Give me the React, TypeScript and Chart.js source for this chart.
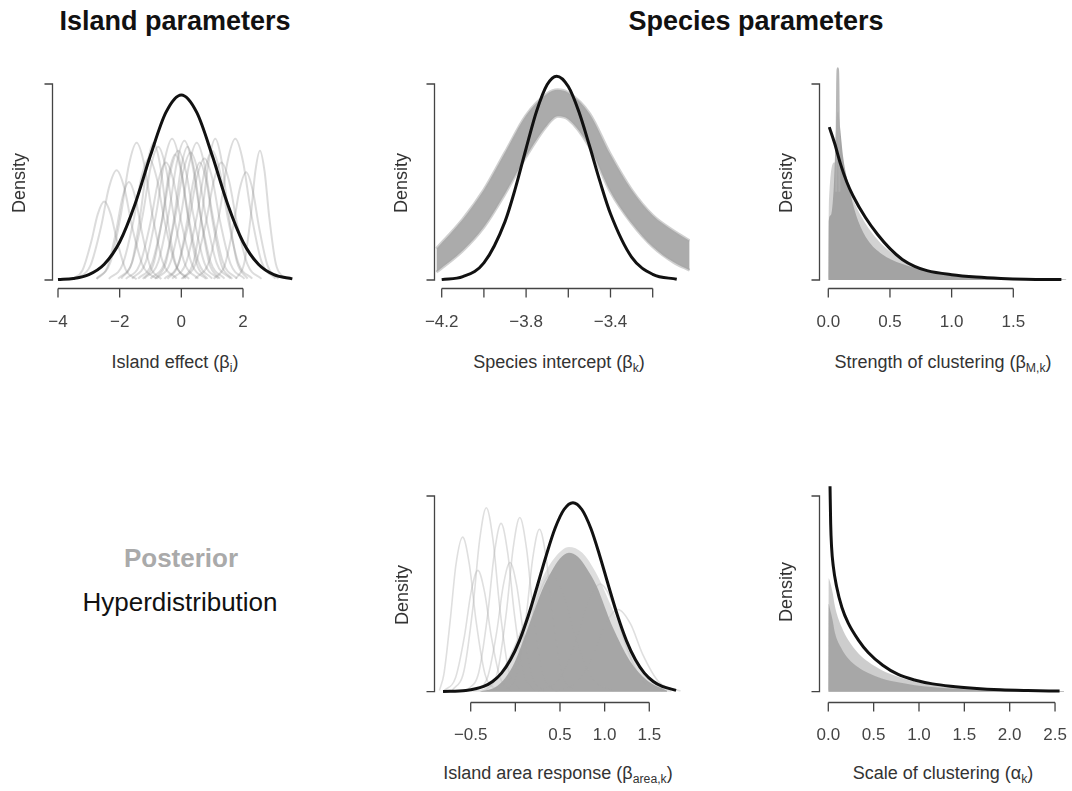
import React, { useEffect, useRef } from "react";
import { Chart, registerables } from "chart.js";

Chart.register(...registerables);

type Pt = [number, number];

// ---------------- Panel 1: Island effect (beta_i) ----------------
const islandTicks = [-4, -2, 0, 2];
const islandTickLabels = ["\u22124", "\u22122", "0", "2"];
const islandHyper: Pt[] = [
  [-4, 0.002], [-3.5, 0.0075], [-3, 0.027], [-2.5, 0.08], [-2, 0.194], [-1.5, 0.388], [-1, 0.636], [-0.5, 0.855],
  [0, 0.944], [0.5, 0.855], [1, 0.636], [1.5, 0.388], [2, 0.194], [2.5, 0.08], [3, 0.027], [3.6, 0.0056],
];
const islandPost01: Pt[] = [[-3.4, 0.006], [-2.95, 0.073], [-2.6, 0.274], [-2.35, 0.47], [-2.1, 0.56], [-1.85, 0.47], [-1.6, 0.274], [-1.25, 0.073], [-0.8, 0.006]];
const islandPost02: Pt[] = [[-2.75, 0.007], [-2.3, 0.091], [-1.95, 0.343], [-1.7, 0.588], [-1.45, 0.7], [-1.2, 0.588], [-0.95, 0.343], [-0.6, 0.091], [-0.15, 0.007]];
const islandPost03: Pt[] = [[-2.35, 0.006], [-1.9, 0.081], [-1.55, 0.304], [-1.3, 0.521], [-1.05, 0.62], [-0.8, 0.521], [-0.55, 0.304], [-0.2, 0.081], [0.25, 0.006]];
const islandPost04: Pt[] = [[-2.05, 0.007], [-1.6, 0.088], [-1.25, 0.333], [-1.0, 0.571], [-0.75, 0.68], [-0.5, 0.571], [-0.25, 0.333], [0.1, 0.088], [0.55, 0.007]];
const islandPost05: Pt[] = [[-1.8, 0.006], [-1.35, 0.078], [-1.0, 0.294], [-0.75, 0.504], [-0.5, 0.6], [-0.25, 0.504], [0.0, 0.294], [0.35, 0.078], [0.8, 0.006]];
const islandPost06: Pt[] = [[-1.6, 0.007], [-1.15, 0.094], [-0.8, 0.353], [-0.55, 0.605], [-0.3, 0.72], [-0.05, 0.605], [0.2, 0.353], [0.55, 0.094], [1.0, 0.007]];
const islandPost07: Pt[] = [[-1.4, 0.007], [-0.95, 0.086], [-0.6, 0.323], [-0.35, 0.554], [-0.1, 0.66], [0.15, 0.554], [0.4, 0.323], [0.75, 0.086], [1.2, 0.007]];
const islandPost08: Pt[] = [[-1.2, 0.007], [-0.75, 0.092], [-0.4, 0.348], [-0.15, 0.596], [0.1, 0.71], [0.35, 0.596], [0.6, 0.348], [0.95, 0.092], [1.4, 0.007]];
const islandPost09: Pt[] = [[-1.0, 0.007], [-0.55, 0.085], [-0.2, 0.319], [0.05, 0.546], [0.3, 0.65], [0.55, 0.546], [0.8, 0.319], [1.15, 0.085], [1.6, 0.007]];
const islandPost10: Pt[] = [[-0.8, 0.007], [-0.35, 0.091], [0.0, 0.343], [0.25, 0.588], [0.5, 0.7], [0.75, 0.588], [1.0, 0.343], [1.35, 0.091], [1.8, 0.007]];
const islandPost11: Pt[] = [[-0.55, 0.006], [-0.1, 0.081], [0.25, 0.304], [0.5, 0.521], [0.75, 0.62], [1.0, 0.521], [1.25, 0.304], [1.6, 0.081], [2.05, 0.006]];
const islandPost12: Pt[] = [[-0.3, 0.007], [0.15, 0.086], [0.5, 0.323], [0.75, 0.554], [1.0, 0.66], [1.25, 0.554], [1.5, 0.323], [1.85, 0.086], [2.3, 0.007]];
const islandPost13: Pt[] = [[0.0, 0.006], [0.45, 0.078], [0.8, 0.294], [1.05, 0.504], [1.3, 0.6], [1.55, 0.504], [1.8, 0.294], [2.15, 0.078], [2.6, 0.006]];
const islandPost14: Pt[] = [[0.45, 0.007], [0.9, 0.094], [1.25, 0.353], [1.5, 0.605], [1.75, 0.72], [2.0, 0.605], [2.25, 0.353], [2.6, 0.094], [3.05, 0.007]];
const islandPost15: Pt[] = [[1.77, 0.007], [2.04, 0.086], [2.25, 0.323], [2.4, 0.554], [2.55, 0.66], [2.7, 0.554], [2.85, 0.323], [3.06, 0.086], [3.33, 0.007]];
const islandPost16: Pt[] = [[-2.75, 0.005], [-2.4, 0.065], [-2.12, 0.245], [-1.91, 0.42], [-1.7, 0.5], [-1.49, 0.42], [-1.28, 0.245], [-1.0, 0.065], [-0.65, 0.005]];
const islandPost17: Pt[] = [[-1.95, 0.007], [-1.6, 0.091], [-1.32, 0.343], [-1.11, 0.588], [-0.9, 0.7], [-0.69, 0.588], [-0.48, 0.343], [-0.2, 0.091], [0.15, 0.007]];
const islandPost18: Pt[] = [[-1.25, 0.006], [-0.9, 0.083], [-0.62, 0.314], [-0.41, 0.538], [-0.2, 0.64], [0.01, 0.538], [0.22, 0.314], [0.5, 0.083], [0.85, 0.006]];
const islandPost19: Pt[] = [[-0.85, 0.007], [-0.5, 0.088], [-0.22, 0.333], [-0.01, 0.571], [0.2, 0.68], [0.41, 0.571], [0.62, 0.333], [0.9, 0.088], [1.25, 0.007]];
const islandPost20: Pt[] = [[-0.45, 0.006], [-0.1, 0.078], [0.18, 0.294], [0.39, 0.504], [0.6, 0.6], [0.81, 0.504], [1.02, 0.294], [1.3, 0.078], [1.65, 0.006]];
const islandPost21: Pt[] = [[0.05, 0.007], [0.4, 0.094], [0.68, 0.353], [0.89, 0.605], [1.1, 0.72], [1.31, 0.605], [1.52, 0.353], [1.8, 0.094], [2.15, 0.007]];
const islandPost22: Pt[] = [[1.05, 0.006], [1.4, 0.072], [1.68, 0.27], [1.89, 0.462], [2.1, 0.55], [2.31, 0.462], [2.52, 0.27], [2.8, 0.072], [3.15, 0.006]];
const islandPost23: Pt[] = [[-3.55, 0.004], [-3.2, 0.052], [-2.92, 0.196], [-2.71, 0.336], [-2.5, 0.4], [-2.29, 0.336], [-2.08, 0.196], [-1.8, 0.052], [-1.45, 0.004]];
const islandPosteriors = [
  islandPost01, islandPost02, islandPost03, islandPost04, islandPost05, islandPost06, islandPost07, islandPost08,
  islandPost09, islandPost10, islandPost11, islandPost12, islandPost13, islandPost14, islandPost15, islandPost16,
  islandPost17, islandPost18, islandPost19, islandPost20, islandPost21, islandPost22, islandPost23,
];

// ---------------- Panel 2: Species intercept (beta_k) ----------------
const interceptTicks = [-4.2, -4.0, -3.8, -3.6, -3.4, -3.2];
const interceptTickLabels = ["\u22124.2", "", "\u22123.8", "", "\u22123.4", ""];
const interceptHyper: Pt[] = [
  [-4.2, 0.002], [-4.1, 0.017], [-4.0, 0.087], [-3.9, 0.298], [-3.85, 0.471], [-3.8, 0.671], [-3.75, 0.862], [-3.7, 0.997],
  [-3.655, 1.04], [-3.6, 0.987], [-3.55, 0.859], [-3.5, 0.686], [-3.45, 0.503], [-3.4, 0.338], [-3.3, 0.117], [-3.2, 0.029], [-3.086, 0.004],
];
const interceptBandX = [-4.225, -4.1, -4.0, -3.9, -3.8, -3.7, -3.65, -3.6, -3.5, -3.4, -3.3, -3.2, -3.1, -3.025];
const interceptBandUpper = [0.16, 0.31, 0.46, 0.65, 0.84, 0.95, 0.97, 0.955, 0.85, 0.64, 0.46, 0.33, 0.25, 0.2];
const interceptBandLower = [0.04, 0.15, 0.27, 0.44, 0.63, 0.79, 0.835, 0.82, 0.68, 0.45, 0.29, 0.17, 0.09, 0.05];

// ---------------- Panel 3: Strength of clustering (beta_M,k) ----------------
const strengthTicks = [0, 0.5, 1.0, 1.5];
const strengthTickLabels = ["0.0", "0.5", "1.0", "1.5"];
const strengthHyper: Pt[] = [
  [0.008, 0.78], [0.05, 0.7], [0.1, 0.59], [0.15, 0.5], [0.2, 0.43], [0.3, 0.32], [0.4, 0.232], [0.5, 0.16],
  [0.6, 0.105], [0.7, 0.07], [0.8, 0.048], [1.0, 0.027], [1.2, 0.015], [1.4, 0.008], [1.6, 0.004], [1.89, 0.002],
];
const strengthPostOuter: Pt[] = [
  [0.0, 0.0], [0.003, 0.36], [0.05, 0.6], [0.1, 0.6], [0.15, 0.49], [0.2, 0.41], [0.3, 0.29], [0.4, 0.205],
  [0.5, 0.145], [0.7, 0.072], [0.9, 0.04], [1.2, 0.018], [1.5, 0.008], [1.93, 0.002],
];
const strengthPostInner: Pt[] = [
  [0.0, 0.0], [0.003, 0.3], [0.02, 0.33], [0.045, 0.48], [0.065, 0.8], [0.08, 0.86], [0.095, 0.78], [0.122, 0.62],
  [0.162, 0.49], [0.203, 0.38], [0.243, 0.3], [0.324, 0.2], [0.433, 0.133], [0.595, 0.083], [0.784, 0.05],
  [1.0, 0.028], [1.3, 0.012], [1.6, 0.006], [1.93, 0.002],
];
const strengthPostSpike: Pt[] = [[0.064, 0.45], [0.072, 1.0], [0.077, 1.08], [0.082, 1.0], [0.09, 0.45]];

// ---------------- Panel 4: Island area response (beta_area,k) ----------------
const areaTicks = [-0.5, 0, 0.5, 1.0, 1.5];
const areaTickLabels = ["\u22120.5", "", "0.5", "1.0", "1.5"];
const areaHyper: Pt[] = [
  [-0.81, 0.001], [-0.555, 0.006], [-0.355, 0.027], [-0.255, 0.052], [-0.155, 0.095], [-0.055, 0.163], [0.045, 0.26],
  [0.145, 0.388], [0.245, 0.539], [0.345, 0.695], [0.445, 0.835], [0.545, 0.931], [0.645, 0.966], [0.745, 0.931],
  [0.845, 0.835], [0.945, 0.695], [1.045, 0.539], [1.145, 0.388], [1.245, 0.26], [1.345, 0.163], [1.445, 0.095],
  [1.545, 0.052], [1.645, 0.027], [1.8, 0.007],
];
const areaPostDense: Pt[] = [
  [-0.4, 0.0], [-0.2, 0.03], [-0.03, 0.13], [0.16, 0.35], [0.3, 0.52], [0.4, 0.61], [0.5, 0.68], [0.6, 0.71],
  [0.7, 0.69], [0.8, 0.63], [0.91, 0.54], [1.09, 0.33], [1.28, 0.16], [1.47, 0.06], [1.7, 0.005],
];
const areaPostHalo: Pt[] = [
  [-0.5, 0.0], [-0.3, 0.03], [-0.1, 0.15], [0.1, 0.36], [0.3, 0.58], [0.45, 0.69], [0.6, 0.74], [0.75, 0.71],
  [0.9, 0.61], [1.1, 0.41], [1.3, 0.2], [1.5, 0.08], [1.75, 0.005],
];
const areaPost01: Pt[] = [[-0.85, 0.006], [-0.8, 0.09], [-0.73, 0.362], [-0.665, 0.65], [-0.59, 0.79], [-0.515, 0.65], [-0.44, 0.362], [-0.34, 0.09], [-0.21, 0.006]];
const areaPost02: Pt[] = [[-0.8, 0.004], [-0.67, 0.071], [-0.57, 0.284], [-0.495, 0.51], [-0.42, 0.62], [-0.345, 0.51], [-0.27, 0.284], [-0.17, 0.071], [-0.04, 0.004]];
const areaPost03: Pt[] = [[-0.705, 0.007], [-0.575, 0.107], [-0.475, 0.431], [-0.4, 0.774], [-0.325, 0.94], [-0.25, 0.774], [-0.175, 0.431], [-0.075, 0.107], [0.055, 0.007]];
const areaPost04: Pt[] = [[-0.54, 0.006], [-0.41, 0.098], [-0.31, 0.394], [-0.235, 0.708], [-0.16, 0.86], [-0.085, 0.708], [-0.01, 0.394], [0.09, 0.098], [0.22, 0.006]];
const areaPost05: Pt[] = [[-0.33, 0.006], [-0.2, 0.101], [-0.1, 0.408], [-0.025, 0.732], [0.05, 0.89], [0.125, 0.732], [0.2, 0.408], [0.3, 0.101], [0.43, 0.006]];
const areaPost06: Pt[] = [[-0.11, 0.006], [0.02, 0.095], [0.12, 0.38], [0.195, 0.683], [0.27, 0.83], [0.345, 0.683], [0.42, 0.38], [0.52, 0.095], [0.65, 0.006]];
const areaPost07: Pt[] = [[-0.44, 0.005], [-0.31, 0.075], [-0.21, 0.302], [-0.135, 0.543], [-0.06, 0.66], [0.015, 0.543], [0.09, 0.302], [0.19, 0.075], [0.32, 0.005]];
const areaPost08: Pt[] = [[0.25, 0.004], [0.49, 0.063], [0.675, 0.252], [0.81, 0.453], [0.95, 0.55], [1.09, 0.453], [1.225, 0.252], [1.41, 0.063], [1.65, 0.004]];
const areaPost09: Pt[] = [[0.45, 0.003], [0.69, 0.048], [0.875, 0.192], [1.01, 0.346], [1.15, 0.42], [1.29, 0.346], [1.425, 0.192], [1.61, 0.048], [1.85, 0.003]];
const areaPost10: Pt[] = [[-0.3, 0.004], [-0.06, 0.068], [0.125, 0.275], [0.26, 0.494], [0.4, 0.6], [0.54, 0.494], [0.675, 0.275], [0.86, 0.068], [1.1, 0.004]];
const areaPosteriors = [areaPost01, areaPost02, areaPost03, areaPost04, areaPost05, areaPost06, areaPost07, areaPost08, areaPost09, areaPost10];

// ---------------- Panel 5: Scale of clustering (alpha_k) ----------------
const scaleTicks = [0, 0.5, 1.0, 1.5, 2.0, 2.5];
const scaleTickLabels = ["0.0", "0.5", "1.0", "1.5", "2.0", "2.5"];
const scaleHyper: Pt[] = [
  [0.019, 1.05], [0.026, 0.86], [0.036, 0.74], [0.055, 0.64], [0.09, 0.54], [0.15, 0.43], [0.22, 0.35], [0.33, 0.265],
  [0.44, 0.2], [0.6, 0.135], [0.77, 0.088], [0.95, 0.06], [1.15, 0.04], [1.35, 0.028], [1.6, 0.018], [1.9, 0.01],
  [2.2, 0.006], [2.55, 0.003],
];
const scalePostOuter: Pt[] = [
  [0.0, 0.0], [0.003, 0.58], [0.02, 0.56], [0.05, 0.5], [0.074, 0.434], [0.147, 0.33], [0.22, 0.264], [0.33, 0.197],
  [0.44, 0.153], [0.59, 0.11], [0.77, 0.077], [0.956, 0.051], [1.14, 0.036], [1.4, 0.022], [1.7, 0.013], [2.0, 0.008], [2.6, 0.003],
];
const scalePostInner: Pt[] = [
  [0.0, 0.0], [0.003, 0.45], [0.02, 0.42], [0.05, 0.36], [0.074, 0.3], [0.147, 0.22], [0.22, 0.17], [0.33, 0.125],
  [0.44, 0.095], [0.59, 0.068], [0.77, 0.048], [0.956, 0.033], [1.14, 0.024], [1.4, 0.015], [1.7, 0.009], [2.0, 0.005], [2.6, 0.002],
];

// ---------------- styling & helpers ----------------
const BLACK = "#111111";
const AXIS = "#444444";
const FONT = '"Liberation Sans", Arial, Helvetica, sans-serif';

const toXY = (p: Pt[]) => p.map(([x, y]) => ({ x, y }));
const curve = (p: Pt[], color: string, width: number) => ({
  data: toXY(p), borderColor: color, borderWidth: width, pointRadius: 0, fill: false,
  cubicInterpolationMode: "monotone",
});
const area = (p: Pt[], color: string) => ({
  data: toXY(p), borderColor: "rgba(0,0,0,0)", borderWidth: 1, backgroundColor: color, pointRadius: 0,
  fill: "origin", cubicInterpolationMode: "monotone",
});
const zip = (xs: number[], ys: number[]) => xs.map((x, i) => ({ x, y: ys[i] }));

type Spec = {
  box: [number, number, number, number]; // canvas left, top, width, height (page)
  area: [number, number, number, number]; // chart area left, top, right, bottom (page)
  x: [number, number];
  y: [number, number];
  ticks: number[];
  labels: string[];
  labelOffset: number;
  datasets: any[];
};

const TOP_Y: [number, number] = [-0.0408, 1.1224];
const BOT_Y: [number, number] = [-0.0511, 1.1226];

const specs: Spec[] = [
  {
    box: [0, 50, 320, 300], area: [52, 60, 310, 288], x: [-4.1946, 4.173], y: TOP_Y,
    ticks: islandTicks, labels: islandTickLabels, labelOffset: 34,
    datasets: [
      curve(islandHyper, BLACK, 3),
      ...islandPosteriors.map((p) => curve(p, "rgba(140,140,140,0.3)", 2)),
    ],
  },
  {
    box: [400, 50, 300, 300], area: [434, 60, 690, 288], x: [-4.2365, -3.0232], y: TOP_Y,
    ticks: interceptTicks, labels: interceptTickLabels, labelOffset: 34,
    datasets: [
      curve(interceptHyper, BLACK, 3),
      {
        data: zip(interceptBandX, interceptBandUpper), borderColor: "rgba(170,170,170,0.55)", borderWidth: 3,
        backgroundColor: "rgba(166,166,166,0.95)", pointRadius: 0, fill: "+1", cubicInterpolationMode: "monotone",
      },
      {
        data: zip(interceptBandX, interceptBandLower), borderColor: "rgba(170,170,170,0.55)", borderWidth: 3,
        pointRadius: 0, fill: false, cubicInterpolationMode: "monotone",
      },
    ],
  },
  {
    box: [770, 50, 302, 300], area: [819, 60, 1068, 288], x: [-0.0754, 1.9435], y: TOP_Y,
    ticks: strengthTicks, labels: strengthTickLabels, labelOffset: 34,
    datasets: [
      curve(strengthHyper, BLACK, 3),
      curve(strengthPostSpike, "rgba(175,175,175,0.9)", 2),
      area(strengthPostInner, "rgba(160,160,160,0.95)"),
      area(strengthPostOuter, "rgba(205,205,205,0.9)"),
    ],
  },
  {
    box: [400, 460, 300, 300], area: [434, 472, 690, 701.7], x: [-0.911, 1.956], y: BOT_Y,
    ticks: areaTicks, labels: areaTickLabels, labelOffset: 33.3,
    datasets: [
      curve(areaHyper, BLACK, 3),
      area(areaPostDense, "rgba(163,163,163,0.95)"),
      area(areaPostHalo, "rgba(200,200,200,0.6)"),
      ...areaPosteriors.map((p) => curve(p, "rgba(175,175,175,0.4)", 1.6)),
    ],
  },
  {
    box: [770, 460, 302, 300], area: [819, 472, 1070, 701.7], x: [-0.1026, 2.665], y: BOT_Y,
    ticks: scaleTicks, labels: scaleTickLabels, labelOffset: 33.3,
    datasets: [
      curve(scaleHyper, BLACK, 3),
      area(scalePostInner, "rgba(165,165,165,0.95)"),
      area(scalePostOuter, "rgba(200,200,200,0.9)"),
    ],
  },
];

function Panel({ spec }: { spec: Spec }) {
  const ref = useRef<HTMLCanvasElement | null>(null);
  useEffect(() => {
    const canvas = ref.current;
    if (!canvas) return;
    const [cl, ct, cw, ch] = spec.box;
    const [al, at, ar, ab] = spec.area;
    const axesPlugin = {
      id: "rAxes",
      afterDraw(chart: any) {
        const { ctx, chartArea } = chart;
        const xs = chart.scales.x;
        const ys = chart.scales.y;
        ctx.save();
        ctx.strokeStyle = AXIS;
        ctx.fillStyle = AXIS;
        ctx.lineWidth = 1.3;
        // y axis: from 0 to 1 with outward ticks at both ends
        const x0 = Math.round(chartArea.left) + 0.5;
        const yb = ys.getPixelForValue(0);
        const yt = ys.getPixelForValue(1);
        ctx.beginPath();
        ctx.moveTo(x0 - 8, yt);
        ctx.lineTo(x0, yt);
        ctx.lineTo(x0, yb);
        ctx.lineTo(x0 - 8, yb);
        ctx.stroke();
        // x axis
        const y0 = Math.round(chartArea.bottom) + 0.5;
        const first = xs.getPixelForValue(spec.ticks[0]);
        const last = xs.getPixelForValue(spec.ticks[spec.ticks.length - 1]);
        ctx.beginPath();
        ctx.moveTo(first, y0);
        ctx.lineTo(last, y0);
        spec.ticks.forEach((t) => {
          const px = xs.getPixelForValue(t);
          ctx.moveTo(px, y0);
          ctx.lineTo(px, y0 + 9);
        });
        ctx.stroke();
        ctx.font = `17px ${FONT}`;
        ctx.textAlign = "center";
        ctx.textBaseline = "middle";
        spec.ticks.forEach((t, i) => {
          const lab = spec.labels[i];
          if (lab) ctx.fillText(lab, xs.getPixelForValue(t), y0 + spec.labelOffset);
        });
        ctx.restore();
      },
    };
    const chart = new Chart(canvas, {
      type: "line",
      data: { datasets: spec.datasets },
      options: {
        animation: false,
        responsive: false,
        devicePixelRatio: 1,
        events: [],
        layout: { padding: { left: al - cl, top: at - ct, right: cl + cw - ar, bottom: ct + ch - ab } },
        scales: {
          x: { type: "linear", min: spec.x[0], max: spec.x[1], display: false },
          y: { type: "linear", min: spec.y[0], max: spec.y[1], display: false },
        },
        plugins: { legend: { display: false }, tooltip: { enabled: false } },
      },
      plugins: [axesPlugin],
    } as any);
    return () => chart.destroy();
  }, [spec]);
  const [cl, ct, cw, ch] = spec.box;
  return (
    <canvas
      ref={ref}
      width={cw}
      height={ch}
      style={{ position: "absolute", left: cl, top: ct, width: cw, height: ch }}
    />
  );
}

const centered = (x: number, y: number, extra: React.CSSProperties = {}): React.CSSProperties => ({
  position: "absolute", left: x, top: y, transform: "translate(-50%, -50%)", whiteSpace: "nowrap",
  lineHeight: 1, fontFamily: FONT, ...extra,
});
const axisTitle: React.CSSProperties = { fontSize: 18, color: "#333" };
const subStyle: React.CSSProperties = { fontSize: "0.68em", verticalAlign: "-0.3em", lineHeight: 0 };

const densityPos: [number, number][] = [[19, 183], [401, 183], [786, 183], [402, 595], [786, 592]];

export default function App() {
  return (
    <div style={{ position: "absolute", left: 0, top: 0, width: 1072, height: 791, background: "#fff", overflow: "hidden" }}>
      {specs.map((s, i) => (
        <Panel key={i} spec={s} />
      ))}
      <div style={centered(175, 21, { fontSize: 27, fontWeight: "bold", color: "#111" })}>Island parameters</div>
      <div style={centered(756, 21, { fontSize: 27, fontWeight: "bold", color: "#111" })}>Species parameters</div>

      {densityPos.map(([x, y], i) => (
        <div key={i} style={centered(x, y, { ...axisTitle, transform: "translate(-50%, -50%) rotate(-90deg)" })}>Density</div>
      ))}

      <div style={centered(175, 362, axisTitle)}>
        Island effect (β<span style={subStyle}>i</span>)
      </div>
      <div style={centered(559, 362, axisTitle)}>
        Species intercept (β<span style={subStyle}>k</span>)
      </div>
      <div style={centered(943, 362, axisTitle)}>
        Strength of clustering (β<span style={subStyle}>M,k</span>)
      </div>
      <div style={centered(558, 773, axisTitle)}>
        Island area response (β<span style={subStyle}>area,k</span>)
      </div>
      <div style={centered(943, 773, axisTitle)}>
        Scale of clustering (α<span style={subStyle}>k</span>)
      </div>

      <div style={centered(181, 558, { fontSize: 26, fontWeight: "bold", color: "#aaaaaa" })}>Posterior</div>
      <div style={centered(180, 602, { fontSize: 26, color: "#111" })}>Hyperdistribution</div>
    </div>
  );
}
